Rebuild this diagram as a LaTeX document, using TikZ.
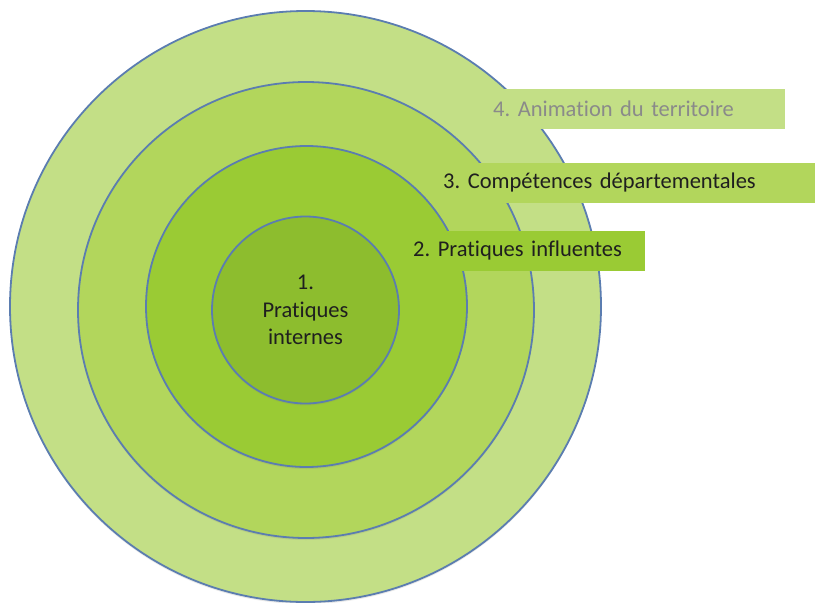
\documentclass[tikz,border=0pt]{standalone}
\usepackage{fontspec}
\setmainfont[Ligatures=NoCommon]{Carlito}
\usetikzlibrary{shadows}
\frenchspacing

\definecolor{ringfour}{HTML}{C3DF86}
\definecolor{ringthree}{HTML}{B2D65C}
\definecolor{ringtwo}{HTML}{9ACB34}
\definecolor{ringone}{HTML}{8DBD2E}
\definecolor{ringline}{HTML}{5B7DB0}
\definecolor{greytext}{HTML}{8A8A8A}

\tikzset{
  ring/.style={draw=ringline, line width=1.8pt, circle, inner sep=0pt,
    drop shadow={opacity=0.18, shadow xshift=0pt, shadow yshift=-2pt}},
  band/.style={rectangle, anchor=west, minimum height=40, inner xsep=13,
    inner ysep=0pt, align=left, font=\fontsize{22.5}{27.5}\selectfont}
}

\begin{document}
\begin{tikzpicture}[x=1pt, y=-1pt]
\useasboundingbox (0,0) rectangle (815,603);

\node[ring, fill=ringfour, minimum size=591] (4) at (305.5,306.5) {};
\node[ring, fill=ringthree, minimum size=456] (3) at (306,310) {};
\node[ring, fill=ringtwo, minimum size=321] (2) at (306.5,306.5) {};
\node[ring, fill=ringone, minimum size=187, align=center,
  font=\fontsize{22.5}{27.5}\selectfont, text=black!88] (1) at (305.5,310) {1.\\Pratiques\\internes};

\node[band, fill=ringfour, text=greytext, text width=279] (l4) at (480,109) {4. Animation du territoire};
\node[band, fill=ringthree, text=black!88, text width=359] (l3) at (430,182.5) {3. Compétences départementales};
\node[band, fill=ringtwo, text=black!88, text width=219] (l2) at (400,250.5) {2. Pratiques influentes};
\end{tikzpicture}
\end{document}
